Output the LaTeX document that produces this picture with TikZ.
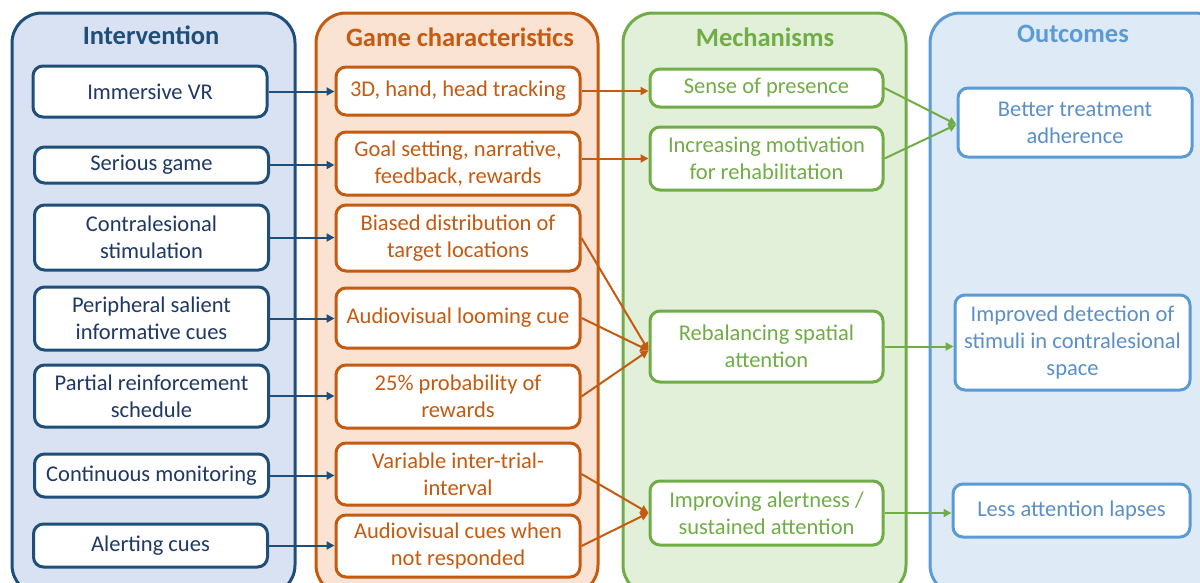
\documentclass[tikz,border=0pt]{standalone}
\usepackage{fontspec}
\setmainfont{Carlito}
\usetikzlibrary{arrows.meta}
\definecolor{navy}{HTML}{1F4E79}
\definecolor{navytext}{HTML}{203864}
\definecolor{navyfill}{HTML}{D9E2F3}
\definecolor{rust}{HTML}{C55A11}
\definecolor{rustfill}{HTML}{FBE3D3}
\definecolor{leaf}{HTML}{70AD47}
\definecolor{leaffill}{HTML}{E2F0D9}
\definecolor{sky}{HTML}{5B9BD5}
\definecolor{skytext}{HTML}{5A8FC8}
\definecolor{skyfill}{HTML}{DEEBF7}
\tikzset{
  panel/.style={line width=3pt, rounded corners=30pt},
  ptitle/.style={font=\fontsize{26.5}{30}\selectfont\bfseries, anchor=center},
  box/.style={draw, fill=white, line width=3pt, rounded corners=10pt,
    align=center, inner sep=1pt, font=\fontsize{22.5}{27}\selectfont},
  ibox/.style={box, draw=navy, text=navytext, minimum width=234pt},
  gbox/.style={box, draw=rust, text=rust, minimum width=244pt},
  mbox/.style={box, draw=leaf, text=leaf, minimum width=233pt},
  obox/.style={box, draw=sky, text=skytext, minimum width=235pt},
  arr/.style={line width=2pt, -{Triangle[length=8pt,width=8pt]}},
}
\begin{document}
\begin{tikzpicture}[x=1pt,y=-1pt]
\useasboundingbox (0,0) rectangle (1200,582);
\clip (0,0) rectangle (1200,582);

% column panels
\draw[panel, draw=navy, fill=navyfill] (12,13) rectangle (295,595);
\draw[panel, draw=rust, fill=rustfill] (316,13) rectangle (598,595);
\draw[panel, draw=leaf, fill=leaffill] (623,13) rectangle (906,595);
\draw[panel, draw=sky, fill=skyfill] (930,13) rectangle (1225,595);

\node[ptitle, text=navy] (tint) at (151,35) {Intervention};
\node[ptitle, text=rust] (tgame) at (460,37) {Game characteristics};
\node[ptitle, text=leaf] (tmech) at (765,37) {Mechanisms};
\node[ptitle, text=sky] (tout) at (1073,34) {Outcomes};

% intervention
\node[ibox, minimum height=51pt] (i1) at (150,91.5) {Immersive VR};
\node[ibox, minimum height=36pt] (i2) at (151.5,165) {Serious game};
\node[ibox, minimum height=65pt] (i3) at (151.5,237.5) {Contralesional\\stimulation};
\node[ibox, minimum height=63pt] (i4) at (151.5,318.5) {Peripheral salient\\informative cues};
\node[ibox, minimum height=62pt] (i5) at (151.5,396) {Partial reinforcement\\schedule};
\node[ibox, minimum height=43pt] (i6) at (151.5,475.5) {Continuous monitoring};
\node[ibox, minimum height=43pt] (i7) at (150.5,545.5) {Alerting cues};

% game characteristics
\node[gbox, minimum height=48pt] (g1) at (458,91) {3D, hand, head tracking};
\node[gbox, minimum height=63pt] (g2) at (458,163.5) {Goal setting, narrative,\\feedback, rewards};
\node[gbox, minimum height=66pt] (g3) at (458,238) {Biased distribution of\\target locations};
\node[gbox, minimum height=60pt] (g4) at (458,318) {Audiovisual looming cue};
\node[gbox, minimum height=63pt] (g5) at (458,396.5) {25\% probability of\\rewards};
\node[gbox, minimum height=62pt] (g6) at (458,474) {Variable inter-trial-\\interval};
\node[gbox, minimum height=62pt] (g7) at (458,546) {Audiovisual cues when\\not responded};

% mechanisms
\node[mbox, minimum height=38pt] (m1) at (766.5,88) {Sense of presence};
\node[mbox, minimum height=63pt] (m2) at (766.5,158.5) {Increasing motivation\\for rehabilitation};
\node[mbox, minimum height=71pt] (m3) at (766.5,346.5) {Rebalancing spatial\\attention};
\node[mbox, minimum height=64pt] (m4) at (766.5,513) {Improving alertness /\\sustained attention};

% outcomes
\node[obox, minimum height=69pt, minimum width=234pt] (o1) at (1075,122.5) {Better treatment\\adherence};
\node[obox, minimum height=95pt] (o2) at (1072.5,342.5) {Improved detection of\\stimuli in contralesional\\space};
\node[obox, minimum height=53pt, minimum width=237pt] (o3) at (1071.5,510.5) {Less attention lapses};

% intervention -> game characteristics
\foreach \k in {1,...,7} {
  \draw[arr, navy] (i\k.east) -- (i\k.east -| g\k.west);
}

% game characteristics -> mechanisms
\draw[arr, rust] (g1.east) -- (g1.east -| m1.west);
\draw[arr, rust] (m2.west -| g2.east) -- (m2.west);
\draw[arr, rust] (g3.east) -- ([yshift=-4pt]m3.west);
\draw[arr, rust] (g4.east) -- ([yshift=-4pt]m3.west);
\draw[arr, rust] (g5.east) -- ([yshift=-4pt]m3.west);
\draw[arr, rust] (g6.east) -- (m4.west);
\draw[arr, rust] (g7.east) -- (m4.west);

% mechanisms -> outcomes
\draw[arr, leaf] (m1.east) -- ([yshift=-2pt]o1.west);
\draw[arr, leaf] (m2.east) -- ([yshift=-2pt]o1.west);
\draw[arr, leaf] (m3.east) -- (m3.east -| o2.west);
\draw[arr, leaf] (m4.east) -- (m4.east -| o3.west);
\end{tikzpicture}
\end{document}
